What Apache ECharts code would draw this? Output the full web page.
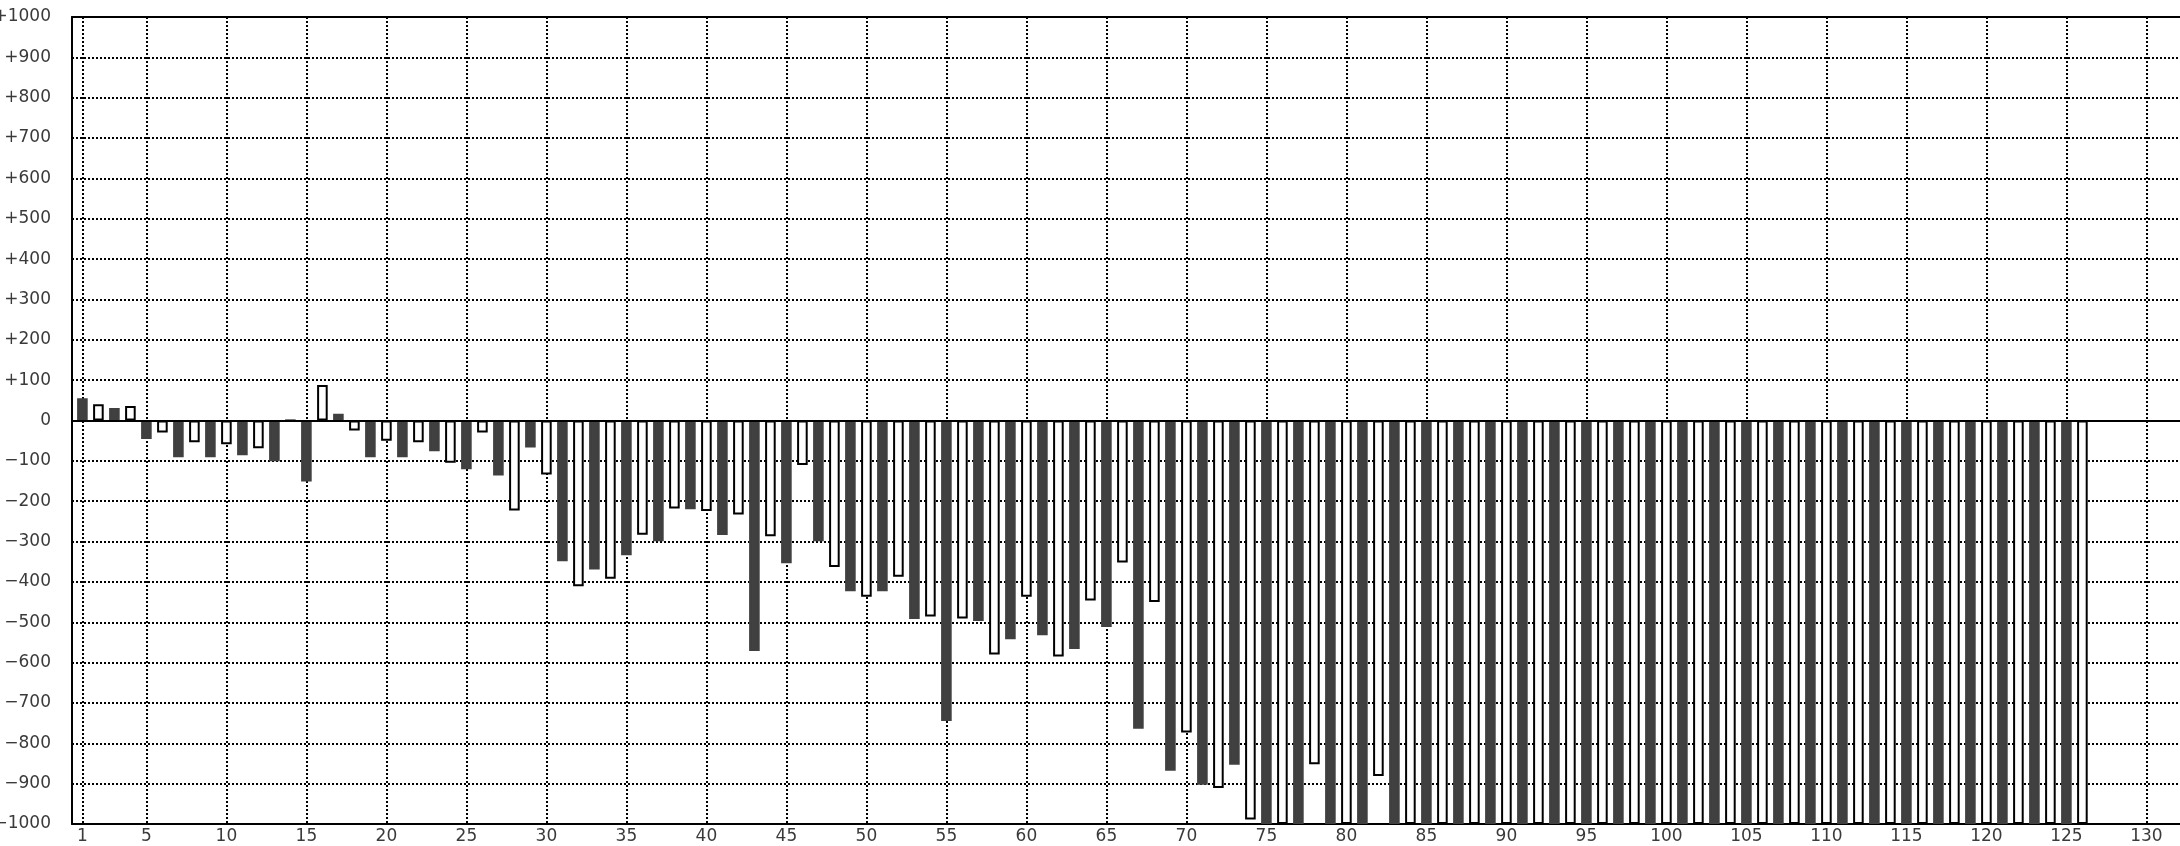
<!DOCTYPE html>
<html>
<head>
<meta charset="utf-8">
<script src="https://cdn.jsdelivr.net/npm/echarts@6/dist/echarts.min.js"></script>
<style>
html,body{margin:0;padding:0;background:#fff;}
#chart{width:2180px;height:846px;}
</style>
</head>
<body>
<div id="chart"></div>
<script>
// Category positions 1..126: odd positions are filled bars, even positions hollow bars
const darkPositions = [1,3,5,7,9,11,13,15,17,19,21,23,25,27,29,31,33,35,37,39,41,43,45,47,49,51,53,55,57,59,61,63,65,67,69,71,73,75,77,79,81,83,85,87,89,91,93,95,97,99,101,103,105,107,109,111,113,115,117,119,121,123,125];
const darkValues = [55,31,-46,-91,-91,-86,-101,-151,17,-91,-91,-76,-121,-136,-67,-349,-369,-334,-299,-220,-284,-571,-354,-299,-423,-423,-492,-745,-497,-542,-532,-566,-512,-764,-868,-903,-853,-1000,-1000,-1000,-1000,-1000,-1000,-1000,-1000,-1000,-1000,-1000,-1000,-1000,-1000,-1000,-1000,-1000,-1000,-1000,-1000,-1000,-1000,-1000,-1000,-1000,-1000];
const hollowPositions = [2,4,6,8,10,12,14,16,18,20,22,24,26,28,30,32,34,36,38,40,42,44,46,48,50,52,54,56,58,60,62,64,66,68,70,72,74,76,78,80,82,84,86,88,90,92,94,96,98,100,102,104,106,108,110,112,114,116,118,120,122,124,126];
const hollowValues = [40,36,-30,-54,-59,-69,0,88,-25,-50,-54,-105,-30,-223,-134,-411,-392,-283,-218,-224,-233,-287,-110,-363,-437,-387,-486,-491,-580,-437,-585,-446,-352,-450,-773,-911,-989,-1000,-852,-1000,-881,-1000,-1000,-1000,-1000,-1000,-1000,-1000,-1000,-1000,-1000,-1000,-1000,-1000,-1000,-1000,-1000,-1000,-1000,-1000,-1000,-1000,-1000];
const xTickValues = [1,5,10,15,20,25,30,35,40,45,50,55,60,65,70,75,80,85,90,95,100,105,110,115,120,125,130];
const yMin = -1000, yMax = 1000, yStep = 100;

const chart = echarts.init(document.getElementById('chart'), null, {renderer:'canvas'});
const font = {fontFamily:'DejaVu Sans', fontSize:17, color:'#3a3a3a'};
const dotted = {color:'#000', width:2, type:[2,2]};

chart.setOption({
  animation:false,
  backgroundColor:'#fff',
  grid:{left:72, right:0, top:17, bottom:22, containLabel:false, outerBoundsMode:'none'},
  xAxis:[{
    type:'value', position:'bottom', min:0.35, max:132.1,
    axisLine:{show:true, onZero:false, lineStyle:{color:'#000', width:2}},
    axisTick:{show:false, customValues:xTickValues},
    axisLabel:Object.assign({customValues:xTickValues, margin:4, showMinLabel:true, showMaxLabel:true}, font),
    splitLine:{show:true, lineStyle:dotted}
  },{
    type:'value', position:'top', min:0, max:1,
    axisLine:{show:true, onZero:false, lineStyle:{color:'#000', width:2}},
    axisTick:{show:false}, axisLabel:{show:false}, splitLine:{show:false}
  }],
  yAxis:{
    type:'value', min:yMin, max:yMax, interval:yStep,
    axisLine:{show:true, onZero:false, lineStyle:{color:'#000', width:2}},
    axisTick:{show:false},
    axisLabel:Object.assign({margin:21, formatter:v => v>0 ? '+'+v : (v<0 ? '\u2212'+(-v) : '0')}, font),
    splitLine:{show:true, lineStyle:dotted}
  },
  series:[{
    type:'bar', xAxisIndex:0, barWidth:10.6, barGap:'-100%',
    data:darkPositions.map((p,i)=>[p, darkValues[i]]),
    itemStyle:{color:'#404040', borderColor:'#404040', borderWidth:2},
    z:3
  },{
    type:'bar', xAxisIndex:0, barWidth:10.6, barGap:'-100%',
    data:hollowPositions.map((p,i)=>[p, hollowValues[i]]),
    itemStyle:{color:'#fff', borderColor:'#000', borderWidth:2},
    z:3,
    markLine:{
      silent:true, symbol:['none','none'], label:{show:false},
      lineStyle:{color:'#000', width:2, type:'solid'},
      data:[{yAxis:0}], z:5
    }
  }]
});
</script>
</body>
</html>
